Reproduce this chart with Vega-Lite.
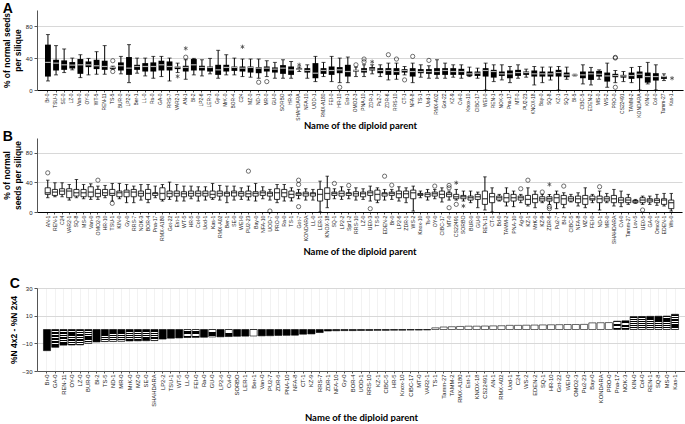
{
  "$schema": "https://vega.github.io/schema/vega-lite/v6.json",
  "padding": {"left": 2, "top": 2, "right": 2, "bottom": 0},
  "background": "white",
  "spacing": 20,
  "config": {
    "view": {"stroke": null},
    "axis": {"labelFont": "Liberation Sans", "titleFont": "Liberation Sans", "labelColor": "#222", "domainColor": "#555", "tickColor": "#555"},
    "axisY": {"tickCount": 5, "grid": true, "gridColor": "#d8d8d8", "labelFontSize": 6, "tickSize": 3, "labelOverlap": false},
    "title": {"anchor": "start", "fontSize": 14, "font": "Liberation Sans", "fontWeight": "bold", "offset": -6, "frame": "bounds"}
  },
  "datasets": {
    "A": [
      {"parent":"Br-0","low":11.3,"q1":16.8,"median":34.5,"q3":56.7,"high":69.3},
      {"parent":"TSU-1","low":18.9,"q1":24.4,"median":33.6,"q3":37.8,"high":55.5},
      {"parent":"SE-0","low":21.8,"q1":25.2,"median":31.5,"q3":37.0,"high":51.3},
      {"parent":"LZ-0","low":25.2,"q1":26.9,"median":31.1,"q3":34.9,"high":39.9},
      {"parent":"Van-0","low":15.5,"q1":20.2,"median":31.5,"q3":38.7,"high":44.1},
      {"parent":"OY-0","low":18.9,"q1":28.6,"median":31.5,"q3":35.7,"high":39.5},
      {"parent":"WT-5","low":19.7,"q1":26.1,"median":30.3,"q3":37.8,"high":47.9},
      {"parent":"REN-11","low":19.7,"q1":25.2,"median":29.4,"q3":36.6,"high":55.5},
      {"parent":"TS-5","low":26.0,"q1":26.5,"median":28.2,"q3":29.0,"high":29.8,"circle1":36.6,"circle2":23.1},
      {"parent":"BUR-0","low":20.2,"q1":24.4,"median":30.3,"q3":34.5,"high":42.0},
      {"parent":"LP2-2","low":9.2,"q1":18.9,"median":27.3,"q3":41.2,"high":56.7},
      {"parent":"Ber-1","low":21.0,"q1":25.2,"median":29.4,"q3":31.5,"high":39.9},
      {"parent":"LL-0","low":17.6,"q1":23.1,"median":29.4,"q3":33.6,"high":39.9},
      {"parent":"Ra-0","low":14.7,"q1":23.1,"median":29.4,"q3":34.5,"high":42.0},
      {"parent":"GA-0","low":16.8,"q1":24.4,"median":31.5,"q3":36.6,"high":42.0},
      {"parent":"RRS-7","low":11.3,"q1":24.4,"median":29.4,"q3":35.7,"high":39.9},
      {"parent":"VAR2-1","low":21.8,"q1":26.1,"median":28.6,"q3":29.4,"high":33.6,"star1":17.0},
      {"parent":"AN-1","low":13.4,"q1":23.1,"median":28.2,"q3":30.3,"high":37.8,"circle1":41.0,"star1":52.0},
      {"parent":"Bl-2","low":18.9,"q1":24.4,"median":31.5,"q3":38.7,"high":39.5},
      {"parent":"LP2-6","low":17.6,"q1":24.4,"median":28.2,"q3":30.3,"high":37.8},
      {"parent":"LER-1","low":20.2,"q1":23.1,"median":28.2,"q3":29.4,"high":39.5},
      {"parent":"Gy-0","low":14.7,"q1":18.9,"median":25.2,"q3":31.5,"high":49.6},
      {"parent":"MrK-0","low":18.9,"q1":23.1,"median":28.2,"q3":31.5,"high":44.1},
      {"parent":"BOR-4","low":18.9,"q1":23.9,"median":28.2,"q3":29.4,"high":39.9},
      {"parent":"C24","low":16.8,"q1":23.1,"median":27.3,"q3":29.4,"high":38.7,"star1":54.0},
      {"parent":"MZ-0","low":16.0,"q1":21.8,"median":28.2,"q3":29.4,"high":38.7},
      {"parent":"ND-1","low":14.7,"q1":21.0,"median":27.3,"q3":28.6,"high":38.7,"circle1":9.7},
      {"parent":"MR-0","low":16.8,"q1":23.1,"median":27.3,"q3":29.4,"high":36.6,"circle1":10.5},
      {"parent":"GU-0","low":14.7,"q1":21.8,"median":26.1,"q3":28.2,"high":34.5},
      {"parent":"SORBO","low":14.7,"q1":20.2,"median":27.3,"q3":31.1,"high":37.8},
      {"parent":"HR-5","low":14.7,"q1":18.9,"median":25.2,"q3":29.4,"high":35.7},
      {"parent":"SHAHDARA","low":23.1,"q1":25.2,"median":26.1,"q3":27.3,"high":28.6,"star1":31.5},
      {"parent":"NFA-10","low":14.7,"q1":21.8,"median":24.4,"q3":27.3,"high":31.5},
      {"parent":"UOD-1","low":10.5,"q1":14.7,"median":21.0,"q3":33.6,"high":42.0},
      {"parent":"RMX-A180","low":16.8,"q1":20.2,"median":24.4,"q3":27.3,"high":34.5},
      {"parent":"FEI-0","low":10.5,"q1":18.9,"median":24.4,"q3":29.4,"high":42.0},
      {"parent":"HR-10","low":9.2,"q1":21.0,"median":25.2,"q3":28.6,"high":39.9,"circle1":3.4},
      {"parent":"Est-1","low":9.2,"q1":16.8,"median":23.1,"q3":31.5,"high":41.2},
      {"parent":"OMO2-3","low":16.8,"q1":23.1,"median":24.4,"q3":25.2,"high":28.6,"circle1":31.5},
      {"parent":"PNA-10","low":16.8,"q1":21.8,"median":24.4,"q3":27.3,"high":31.5,"circle1":38.7,"circle2":35.3},
      {"parent":"ZDR-1","low":20.2,"q1":24.4,"median":26.1,"q3":28.6,"high":31.5,"star1":35.3},
      {"parent":"Pu2-7","low":16.8,"q1":21.0,"median":24.4,"q3":27.3,"high":31.5},
      {"parent":"ZDR-6","low":12.6,"q1":18.9,"median":24.4,"q3":27.3,"high":33.6,"circle1":44.1},
      {"parent":"RRS-10","low":13.4,"q1":18.9,"median":23.1,"q3":27.3,"high":33.6,"circle1":38.7},
      {"parent":"CT-1","low":18.9,"q1":21.8,"median":24.4,"q3":26.1,"high":29.4,"circle1":12.6},
      {"parent":"NFA-8","low":9.2,"q1":16.8,"median":23.1,"q3":27.3,"high":33.6,"circle1":42.0},
      {"parent":"TS-1","low":16.0,"q1":21.0,"median":23.1,"q3":26.1,"high":31.5},
      {"parent":"Uod-1","low":14.7,"q1":20.2,"median":23.1,"q3":26.1,"high":30.3,"circle1":37.0},
      {"parent":"RMX-A02","low":14.7,"q1":18.9,"median":23.1,"q3":27.3,"high":37.8},
      {"parent":"Got-22","low":14.7,"q1":18.9,"median":24.4,"q3":27.3,"high":33.6},
      {"parent":"KZ-9","low":16.0,"q1":18.9,"median":23.1,"q3":27.3,"high":31.5},
      {"parent":"Cvi-0","low":14.7,"q1":18.9,"median":23.1,"q3":26.5,"high":31.5},
      {"parent":"Knox-10","low":16.8,"q1":17.6,"median":20.2,"q3":23.1,"high":28.6},
      {"parent":"CIBC-17","low":14.7,"q1":17.6,"median":21.0,"q3":23.1,"high":27.3},
      {"parent":"WEI-0","low":0,"q1":16.8,"median":24.4,"q3":27.3,"high":33.6},
      {"parent":"REN-1","low":10.5,"q1":15.5,"median":23.1,"q3":25.2,"high":31.5},
      {"parent":"NOK-3","low":12.6,"q1":17.6,"median":20.2,"q3":23.1,"high":31.5},
      {"parent":"Pna-17","low":9.2,"q1":14.7,"median":20.2,"q3":24.4,"high":29.4},
      {"parent":"MT-0","low":14.7,"q1":17.6,"median":21.8,"q3":25.2,"high":31.5},
      {"parent":"PU2-23","low":16.0,"q1":18.9,"median":21.8,"q3":23.1,"high":26.1},
      {"parent":"KNOX-18","low":6.3,"q1":16.8,"median":20.2,"q3":24.4,"high":29.4},
      {"parent":"Bay-0","low":9.2,"q1":16.8,"median":20.2,"q3":23.1,"high":28.6},
      {"parent":"SQ-8","low":12.6,"q1":16.8,"median":20.2,"q3":23.1,"high":28.6},
      {"parent":"KZ-1","low":0,"q1":16.8,"median":21.8,"q3":25.2,"high":29.4},
      {"parent":"SQ-1","low":13.4,"q1":16.0,"median":18.9,"q3":21.8,"high":28.6},
      {"parent":"Bl-5","low":17.6,"q1":18.1,"median":18.9,"q3":19.3,"high":19.7},
      {"parent":"CIBC-5","low":7.6,"q1":14.7,"median":18.9,"q3":23.1,"high":31.5},
      {"parent":"EDEN-2","low":6.3,"q1":12.6,"median":20.2,"q3":23.1,"high":28.2},
      {"parent":"MS-0","low":13.4,"q1":16.8,"median":19.7,"q3":23.9,"high":25.2},
      {"parent":"WS-2","low":3.4,"q1":10.5,"median":17.6,"q3":21.8,"high":33.6},
      {"parent":"PRO-0","low":9.2,"q1":16.0,"median":18.1,"q3":20.2,"high":24.4,"circle1":40.0,"circle2":40.8,"circle3":3.4},
      {"parent":"CS22491","low":10.5,"q1":15.5,"median":17.6,"q3":18.9,"high":23.1},
      {"parent":"TAMM-2","low":9.2,"q1":13.9,"median":18.1,"q3":21.8,"high":28.2},
      {"parent":"KONDARA","low":0,"q1":14.7,"median":19.7,"q3":23.1,"high":29.4},
      {"parent":"KIN-0","low":7.6,"q1":9.2,"median":16.8,"q3":21.8,"high":34.5},
      {"parent":"Col-0","low":0,"q1":11.8,"median":16.8,"q3":21.0,"high":31.5},
      {"parent":"Tamm-27","low":11.8,"q1":13.9,"median":16.8,"q3":17.6,"high":20.2},
      {"parent":"Kas-1","star1":14.7}
    ],
    "B": [
      {"parent":"AN-1","low":19.3,"q1":23.8,"median":26.0,"q3":32.7,"high":43.0,"circle1":52.9},
      {"parent":"REN-1","low":20.6,"q1":22.4,"median":26.9,"q3":30.5,"high":39.5},
      {"parent":"C24","low":20.6,"q1":23.8,"median":28.3,"q3":31.4,"high":39.5},
      {"parent":"VAR2-1","low":16.1,"q1":19.3,"median":28.3,"q3":31.4,"high":37.2},
      {"parent":"SQ-8","low":19.3,"q1":21.5,"median":26.0,"q3":30.5,"high":43.9},
      {"parent":"MS-0","low":17.9,"q1":20.6,"median":26.0,"q3":30.5,"high":37.2},
      {"parent":"Van-0","low":17.0,"q1":20.6,"median":26.9,"q3":34.1,"high":38.1},
      {"parent":"OMO2-3","low":17.0,"q1":20.6,"median":25.1,"q3":30.5,"high":35.0,"circle1":43.0},
      {"parent":"HR-10","low":19.3,"q1":22.4,"median":26.0,"q3":30.5,"high":35.9},
      {"parent":"TSU-1","low":14.8,"q1":22.4,"median":25.1,"q3":30.5,"high":38.6,"circle1":11.7},
      {"parent":"KIN-0","low":17.9,"q1":20.6,"median":26.0,"q3":28.3,"high":38.6},
      {"parent":"Gy-0","low":12.6,"q1":20.6,"median":26.9,"q3":29.6,"high":37.2},
      {"parent":"RRS-7","low":12.6,"q1":20.6,"median":26.9,"q3":30.5,"high":35.0},
      {"parent":"NOK-3","low":16.1,"q1":21.5,"median":25.1,"q3":28.3,"high":37.2},
      {"parent":"BOR-4","low":12.6,"q1":17.0,"median":25.1,"q3":30.5,"high":37.2},
      {"parent":"Pna-17","low":19.3,"q1":22.4,"median":25.1,"q3":26.0,"high":35.0},
      {"parent":"RMX-A180","low":14.8,"q1":17.0,"median":25.1,"q3":32.7,"high":37.2},
      {"parent":"Got-22","low":17.0,"q1":20.6,"median":25.1,"q3":28.3,"high":40.4},
      {"parent":"Est-1","low":14.8,"q1":21.5,"median":25.1,"q3":28.3,"high":37.2},
      {"parent":"WT-5","low":14.8,"q1":20.6,"median":24.7,"q3":27.4,"high":35.0},
      {"parent":"HR-5","low":17.9,"q1":21.5,"median":25.1,"q3":28.3,"high":35.0},
      {"parent":"Col-0","low":14.8,"q1":21.5,"median":25.1,"q3":28.3,"high":34.1},
      {"parent":"Uod-1","low":16.1,"q1":21.5,"median":25.1,"q3":28.3,"high":34.1},
      {"parent":"Kas-1","low":17.0,"q1":19.3,"median":23.8,"q3":28.3,"high":38.6},
      {"parent":"RMX-A02","low":16.1,"q1":21.5,"median":25.1,"q3":28.3,"high":35.9},
      {"parent":"Ber-1","low":12.6,"q1":21.5,"median":25.1,"q3":26.9,"high":35.0},
      {"parent":"SE-0","low":16.1,"q1":21.5,"median":26.0,"q3":28.3,"high":35.0},
      {"parent":"WEI-0","low":17.0,"q1":21.5,"median":25.1,"q3":27.4,"high":32.7},
      {"parent":"PU2-23","low":16.1,"q1":20.6,"median":24.7,"q3":28.3,"high":35.0,"circle1":55.2},
      {"parent":"Bay-0","low":14.8,"q1":21.5,"median":25.1,"q3":27.4,"high":38.6},
      {"parent":"NFA-10","low":17.9,"q1":22.4,"median":26.0,"q3":28.3,"high":34.1},
      {"parent":"UOD-7","low":16.1,"q1":21.5,"median":25.1,"q3":26.9,"high":30.5,"circle1":1.3},
      {"parent":"PRO-0","low":12.6,"q1":17.0,"median":26.0,"q3":31.4,"high":37.2},
      {"parent":"Ra-0","low":14.8,"q1":20.6,"median":26.0,"q3":30.5,"high":37.2},
      {"parent":"TS-1","low":14.8,"q1":19.3,"median":23.8,"q3":28.3,"high":32.7},
      {"parent":"Got-7","low":17.9,"q1":22.4,"median":24.7,"q3":26.0,"high":30.5,"circle1":43.0,"circle2":37.2,"circle3":7.2},
      {"parent":"KONDARA","low":16.1,"q1":21.5,"median":24.7,"q3":26.9,"high":31.4},
      {"parent":"LL-0","low":16.1,"q1":21.5,"median":24.7,"q3":26.0,"high":30.5},
      {"parent":"LER-1","low":0,"q1":14.8,"median":23.8,"q3":30.5,"high":41.7},
      {"parent":"KNOX-18","low":5.8,"q1":17.0,"median":25.1,"q3":32.7,"high":48.4},
      {"parent":"SQ-1","low":17.9,"q1":22.4,"median":25.1,"q3":26.9,"high":31.4,"circle1":38.6},
      {"parent":"LP2-2","low":17.0,"q1":21.5,"median":25.1,"q3":28.3,"high":34.1},
      {"parent":"Spr1-2","low":17.9,"q1":22.4,"median":25.1,"q3":26.0,"high":30.5,"circle1":35.9},
      {"parent":"RRS-10","low":16.1,"q1":21.5,"median":24.7,"q3":27.4,"high":32.7},
      {"parent":"LZ-0","low":17.0,"q1":20.6,"median":24.7,"q3":26.9,"high":31.4},
      {"parent":"UE0-3","low":14.8,"q1":22.4,"median":26.0,"q3":28.3,"high":35.0,"circle1":4.5},
      {"parent":"TS-5","low":12.6,"q1":16.1,"median":23.8,"q3":29.6,"high":32.7},
      {"parent":"EDEN-2","low":16.1,"q1":21.5,"median":24.7,"q3":26.0,"high":30.5,"circle1":48.4},
      {"parent":"Br-0","low":17.0,"q1":22.4,"median":25.1,"q3":26.9,"high":30.5,"circle1":36.3},
      {"parent":"LP2-6","low":14.8,"q1":19.3,"median":24.7,"q3":28.3,"high":34.1},
      {"parent":"ZDR-1","low":12.6,"q1":19.3,"median":24.7,"q3":28.3,"high":32.7},
      {"parent":"WS-2","low":1.3,"q1":17.9,"median":26.0,"q3":29.6,"high":35.0},
      {"parent":"Knox-10","low":19.3,"q1":22.4,"median":23.8,"q3":25.1,"high":28.3},
      {"parent":"Ts-0","low":16.1,"q1":20.6,"median":23.8,"q3":26.0,"high":30.5},
      {"parent":"OY-0","low":17.9,"q1":21.5,"median":24.7,"q3":26.9,"high":30.5,"circle1":35.0},
      {"parent":"CIBC-17","low":13.5,"q1":19.3,"median":23.8,"q3":28.3,"high":32.7},
      {"parent":"MT-0","low":16.1,"q1":20.6,"median":23.8,"q3":26.0,"high":28.3,"circle1":35.9,"circle2":32.7,"circle3":5.8},
      {"parent":"CS22491","low":16.1,"q1":17.9,"median":20.6,"q3":23.8,"high":30.5,"star1":39.5,"circle1":10.3},
      {"parent":"SORBO","low":14.8,"q1":17.9,"median":20.6,"q3":22.4,"high":28.3,"star1":8.1},
      {"parent":"BUR-0","low":12.6,"q1":16.1,"median":19.3,"q3":21.5,"high":28.3},
      {"parent":"GU-0","low":5.8,"q1":17.0,"median":20.6,"q3":23.8,"high":26.9},
      {"parent":"REN-11","low":2.7,"q1":10.3,"median":17.9,"q3":28.3,"high":47.5},
      {"parent":"CT-1","low":0,"q1":12.6,"median":20.6,"q3":25.1,"high":32.7},
      {"parent":"Bd-0","low":14.8,"q1":16.1,"median":19.3,"q3":21.5,"high":23.8},
      {"parent":"TAMM-2","low":8.1,"q1":13.5,"median":19.3,"q3":25.1,"high":32.7},
      {"parent":"PNA-10","low":7.2,"q1":14.8,"median":19.3,"q3":23.8,"high":28.3},
      {"parent":"Ag-0","low":12.6,"q1":16.1,"median":19.3,"q3":21.5,"high":23.8,"circle1":31.4},
      {"parent":"KZ-1","low":8.1,"q1":10.3,"median":17.0,"q3":22.4,"high":32.7,"circle1":43.0},
      {"parent":"MrK-0","low":5.8,"q1":12.6,"median":17.9,"q3":23.8,"high":28.3},
      {"parent":"KZ-9","low":12.6,"q1":14.8,"median":17.9,"q3":20.6,"high":23.8,"circle1":27.0},
      {"parent":"ZDR-6","low":10.3,"q1":14.8,"median":17.9,"q3":20.6,"high":23.8,"star1":37.2,"circle1":7.2,"circle2":4.5},
      {"parent":"Pu2-7","low":4.5,"q1":12.6,"median":19.3,"q3":23.8,"high":28.3},
      {"parent":"Bl-2","low":5.8,"q1":10.3,"median":17.9,"q3":22.4,"high":26.0,"circle1":35.0},
      {"parent":"CIBC-5","low":13.5,"q1":14.8,"median":17.9,"q3":20.6,"high":23.8},
      {"parent":"NFA-8","low":8.1,"q1":12.6,"median":17.9,"q3":21.5,"high":26.0},
      {"parent":"MZ-0","low":5.8,"q1":10.3,"median":17.9,"q3":22.4,"high":32.7},
      {"parent":"FEI-0","low":12.6,"q1":16.1,"median":17.9,"q3":21.5,"high":23.8},
      {"parent":"ND-1","low":2.7,"q1":12.6,"median":17.9,"q3":21.5,"high":28.3,"circle1":34.1},
      {"parent":"MR-0","low":12.6,"q1":14.8,"median":17.9,"q3":20.6,"high":25.1},
      {"parent":"SHAHDARA","low":8.1,"q1":12.6,"median":17.9,"q3":22.4,"high":30.5},
      {"parent":"Cvi-0","low":7.2,"q1":12.6,"median":16.1,"q3":19.3,"high":28.3},
      {"parent":"Tamm-27","low":10.3,"q1":12.6,"median":16.1,"q3":19.3,"high":23.8},
      {"parent":"Lov-5","low":11.7,"q1":12.6,"median":14.8,"q3":15.7,"high":17.0},
      {"parent":"UE0-5","low":10.3,"q1":12.6,"median":16.1,"q3":19.3,"high":21.5,"circle1":2.7},
      {"parent":"GA-0","low":10.3,"q1":13.5,"median":16.1,"q3":17.9,"high":21.5},
      {"parent":"Omo2-1","low":9.0,"q1":12.6,"median":15.7,"q3":17.9,"high":23.8},
      {"parent":"EDEN-1","low":8.1,"q1":10.3,"median":16.1,"q3":17.9,"high":25.1},
      {"parent":"Ws-0","low":1.3,"q1":4.5,"median":12.6,"q3":16.1,"high":25.1}
    ],
    "C": [
      {"parent":"Br-0","diff":-15.3,"group":1},
      {"parent":"GA-0","diff":-12.9,"group":2},
      {"parent":"REN-11","diff":-11.3,"group":2},
      {"parent":"OY-0","diff":-11.2,"group":2},
      {"parent":"LZ-0","diff":-11.1,"group":2},
      {"parent":"BUR-0","diff":-10.0,"group":2},
      {"parent":"Bl-2","diff":-9.0,"group":2},
      {"parent":"TS-5","diff":-8.7,"group":2},
      {"parent":"ND-1","diff":-8.6,"group":2},
      {"parent":"MR-0","diff":-8.5,"group":2},
      {"parent":"MrK-0","diff":-8.3,"group":2},
      {"parent":"MZ-0","diff":-8.2,"group":2},
      {"parent":"SE-0","diff":-8.1,"group":2},
      {"parent":"SHAHDARA","diff":-8.0,"group":2},
      {"parent":"LP2-2","diff":-6.9,"group":1},
      {"parent":"TSU-1","diff":-6.3,"group":1},
      {"parent":"WT-5","diff":-6.1,"group":1},
      {"parent":"LL-0","diff":-5.8,"group":2},
      {"parent":"FEI-0","diff":-5.7,"group":2},
      {"parent":"Ra-0","diff":-5.6,"group":1},
      {"parent":"GU-0","diff":-5.4,"group":2},
      {"parent":"LP2-6","diff":-5.3,"group":1},
      {"parent":"Cvi-0","diff":-5.1,"group":2},
      {"parent":"SORBO","diff":-4.9,"group":1},
      {"parent":"LER-1","diff":-4.8,"group":1},
      {"parent":"Ber-1","diff":-4.7,"group":2},
      {"parent":"Van-0","diff":-4.6,"group":1},
      {"parent":"PU2-7","diff":-4.5,"group":1},
      {"parent":"ZDR-6","diff":-4.3,"group":1},
      {"parent":"PNA-10","diff":-4.2,"group":1},
      {"parent":"NFA-8","diff":-4.1,"group":1},
      {"parent":"CT-1","diff":-3.4,"group":1},
      {"parent":"KZ-9","diff":-3.2,"group":1},
      {"parent":"RRS-7","diff":-2.2,"group":1},
      {"parent":"ZDR-1","diff":-1.1,"group":1},
      {"parent":"NFA-10","diff":-0.9,"group":1},
      {"parent":"Gy-0","diff":-0.8,"group":1},
      {"parent":"BOR-4","diff":-0.8,"group":1},
      {"parent":"UOD-1","diff":-0.7,"group":1},
      {"parent":"RRS-10","diff":-0.7,"group":1},
      {"parent":"KZ-1","diff":-0.6,"group":1},
      {"parent":"CIBC-5","diff":-0.6,"group":1},
      {"parent":"HR-5","diff":-0.5,"group":1},
      {"parent":"Knox-10","diff":-0.5,"group":1},
      {"parent":"CIBC-17","diff":-0.4,"group":1},
      {"parent":"MT-0","diff":-0.4,"group":1},
      {"parent":"VAR2-1","diff":-0.3,"group":1},
      {"parent":"TS-1","diff":1.2,"group":3},
      {"parent":"Tamm-27","diff":1.8,"group":3},
      {"parent":"TAMM-2","diff":2.0,"group":3},
      {"parent":"RMX-A180","diff":2.2,"group":3},
      {"parent":"Est-1","diff":2.4,"group":3},
      {"parent":"KNOX-18","diff":2.4,"group":3},
      {"parent":"CS22491","diff":2.5,"group":3},
      {"parent":"AN-1","diff":2.6,"group":3},
      {"parent":"RMX-A02","diff":2.7,"group":3},
      {"parent":"Uod-1","diff":3.0,"group":3},
      {"parent":"C24","diff":3.0,"group":3},
      {"parent":"WS-2","diff":3.1,"group":3},
      {"parent":"EDEN-2","diff":3.2,"group":3},
      {"parent":"SQ-1","diff":3.3,"group":3},
      {"parent":"HR-10","diff":3.4,"group":3},
      {"parent":"Got-22","diff":3.5,"group":3},
      {"parent":"WEI-0","diff":3.6,"group":3},
      {"parent":"OMO2-3","diff":3.6,"group":3},
      {"parent":"Pu2-23","diff":3.7,"group":3},
      {"parent":"Bay-0","diff":4.8,"group":3},
      {"parent":"KONDARA","diff":4.9,"group":3},
      {"parent":"PRO-0","diff":5.0,"group":3},
      {"parent":"Pna-17","diff":6.0,"group":2},
      {"parent":"NOK-3","diff":6.3,"group":2},
      {"parent":"KIN-0","diff":9.3,"group":2},
      {"parent":"Col-0","diff":9.4,"group":2},
      {"parent":"REN-1","diff":9.5,"group":2},
      {"parent":"SQ-8","diff":9.6,"group":2},
      {"parent":"MS-0","diff":9.7,"group":2},
      {"parent":"Kas-1","diff":11.0,"group":2}
    ]
  },
  "vconcat": [
    {
      "spacing": 0,
      "vconcat": [
        {
          "width": 646, "height": 80,
          "title": {"text": "A"},
          "data": {"name": "A"},
          "encoding": {
            "x": {"field": "parent", "type": "nominal", "sort": null,
              "scale": {"paddingInner": 0, "paddingOuter": 0.85},
              "axis": {"labelAngle": -90, "labelFontSize": 4.9, "tickSize": 2, "labelPadding": 1, "labelOverlap": false, "labelBound": false, "domainColor": "#000",
                "title": "Name of the diploid parent", "titleFont": "Lato", "titleFontSize": 9.5, "titleFontWeight": "bold", "titlePadding": 0, "titleColor": "#000"}}
          },
          "layer": [
            {"mark": {"type": "rule", "color": "black", "strokeWidth": 1},
             "encoding": {"y": {"field": "low", "type": "quantitative", "scale": {"domain": [0, 100]},
                "axis": {"title": ["% of normal seeds", "per silique"], "titleFontSize": 8.5, "titleFontWeight": "bold", "titleColor": "#000", "titlePadding": 3, "values": [0, 20, 40, 60, 80, 100]}},
               "y2": {"field": "high"}}},
            {"mark": {"type": "tick", "color": "black", "size": 4, "thickness": 1}, "encoding": {"y": {"field": "low", "type": "quantitative"}}},
            {"mark": {"type": "tick", "color": "black", "size": 4, "thickness": 1}, "encoding": {"y": {"field": "high", "type": "quantitative"}}},
            {"mark": {"type": "bar", "width": {"band": 0.72}, "color": "black"}, "encoding": {"y": {"field": "q1", "type": "quantitative"}, "y2": {"field": "q3"}}},
            {"mark": {"type": "tick", "color": "white", "size": 5.5, "thickness": 1.2}, "encoding": {"y": {"field": "median", "type": "quantitative"}}},
            {"transform": [{"fold": ["circle1", "circle2", "circle3", "star1", "star2"], "as": ["kind", "value"]}],
             "mark": {"type": "point", "filled": false, "stroke": "black", "strokeWidth": 0.8, "size": 18},
             "encoding": {"y": {"field": "value", "type": "quantitative"},
               "shape": {"field": "kind", "type": "nominal", "legend": null,
                 "scale": {"domain": ["circle1", "circle2", "circle3", "star1", "star2"], "range": ["circle", "circle", "circle", "M0,-1L0,1M-0.87,-0.5L0.87,0.5M-0.87,0.5L0.87,-0.5", "M0,-1L0,1M-0.87,-0.5L0.87,0.5M-0.87,0.5L0.87,-0.5"]}}}}
          ]
        },
        {
          "width": 645, "height": 74,
          "title": {"text": "B"},
          "data": {"name": "B"},
          "encoding": {
            "x": {"field": "parent", "type": "nominal", "sort": null,
              "scale": {"paddingInner": 0, "paddingOuter": 1.18},
              "axis": {"labelAngle": -90, "labelFontSize": 5.2, "tickSize": 2, "labelPadding": 1, "labelOverlap": false, "labelBound": false, "domainColor": "#000",
                "title": "Name of the diploid parent", "titleFont": "Lato", "titleFontSize": 9.5, "titleFontWeight": "bold", "titlePadding": 3, "titleColor": "#000"}}
          },
          "layer": [
            {"mark": {"type": "rule", "color": "black", "strokeWidth": 1},
             "encoding": {"y": {"field": "low", "type": "quantitative", "scale": {"domain": [0, 100]},
                "axis": {"title": ["% of normal", "seeds per silique"], "titleFontSize": 8.5, "titleFontWeight": "bold", "titleColor": "#000", "titlePadding": 3, "values": [0, 20, 40, 60, 80, 100]}},
               "y2": {"field": "high"}}},
            {"mark": {"type": "tick", "color": "black", "size": 3.5, "thickness": 1}, "encoding": {"y": {"field": "low", "type": "quantitative"}}},
            {"mark": {"type": "tick", "color": "black", "size": 3.5, "thickness": 1}, "encoding": {"y": {"field": "high", "type": "quantitative"}}},
            {"mark": {"type": "bar", "width": {"band": 0.72}, "fill": "white", "stroke": "black", "strokeWidth": 0.8}, "encoding": {"y": {"field": "q1", "type": "quantitative"}, "y2": {"field": "q3"}}},
            {"mark": {"type": "tick", "color": "black", "size": 5, "thickness": 1.3}, "encoding": {"y": {"field": "median", "type": "quantitative"}}},
            {"transform": [{"fold": ["circle1", "circle2", "circle3", "star1", "star2"], "as": ["kind", "value"]}],
             "mark": {"type": "point", "filled": false, "stroke": "black", "strokeWidth": 0.8, "size": 18},
             "encoding": {"y": {"field": "value", "type": "quantitative"},
               "shape": {"field": "kind", "type": "nominal", "legend": null,
                 "scale": {"domain": ["circle1", "circle2", "circle3", "star1", "star2"], "range": ["circle", "circle", "circle", "M0,-1L0,1M-0.87,-0.5L0.87,0.5M-0.87,0.5L0.87,-0.5", "M0,-1L0,1M-0.87,-0.5L0.87,0.5M-0.87,0.5L0.87,-0.5"]}}}}
          ]
        }
      ]
    },
    {
      "width": 648, "height": 83,
      "title": {"text": "C"},
      "data": {"name": "C"},
      "mark": {"type": "bar", "width": {"band": 0.86}, "stroke": "black", "strokeWidth": 0.6},
      "encoding": {
        "x": {"field": "parent", "type": "nominal", "sort": null,
          "scale": {"paddingInner": 0, "paddingOuter": 0.71},
          "axis": {"orient": "bottom", "labelAngle": -90, "labelFontSize": 5.8, "tickSize": 2, "labelPadding": 1, "labelOverlap": false, "labelBound": false, "domainColor": "#555",
            "grid": true, "gridColor": "#f2f2f2",
            "title": "Name of the diploid parent", "titleFont": "Lato", "titleFontSize": 9.5, "titleFontWeight": "bold", "titlePadding": 6, "titleColor": "#000"}},
        "y": {"field": "diff", "type": "quantitative", "scale": {"domain": [-30, 30]},
          "axis": {"title": "%N 4x2 - %N 2x4", "titleFontSize": 8.5, "titleFontWeight": "bold", "titleColor": "#000", "titlePadding": 3, "values": [-30, -20, -10, 0, 10, 20, 30]}},
        "fill": {
          "condition": [
            {"test": "datum.group === 1", "value": "black"},
            {"test": "datum.group === 2", "value": {"gradient": "linear", "x1": 0, "y1": 0, "x2": 0, "y2": 1, "stops": [
              {"offset": 0, "color": "#000"}, {"offset": 0.1, "color": "#000"}, {"offset": 0.1, "color": "#fff"}, {"offset": 0.16, "color": "#fff"},
              {"offset": 0.16, "color": "#000"}, {"offset": 0.26, "color": "#000"}, {"offset": 0.26, "color": "#fff"}, {"offset": 0.32, "color": "#fff"},
              {"offset": 0.32, "color": "#000"}, {"offset": 0.42, "color": "#000"}, {"offset": 0.42, "color": "#fff"}, {"offset": 0.48, "color": "#fff"},
              {"offset": 0.48, "color": "#000"}, {"offset": 0.58, "color": "#000"}, {"offset": 0.58, "color": "#fff"}, {"offset": 0.64, "color": "#fff"},
              {"offset": 0.64, "color": "#000"}, {"offset": 0.74, "color": "#000"}, {"offset": 0.74, "color": "#fff"}, {"offset": 0.8, "color": "#fff"},
              {"offset": 0.8, "color": "#000"}, {"offset": 0.9, "color": "#000"}, {"offset": 0.9, "color": "#fff"}, {"offset": 0.95, "color": "#fff"},
              {"offset": 0.95, "color": "#000"}, {"offset": 1, "color": "#000"}]}}
          ],
          "value": "white"
        }
      }
    }
  ]
}
